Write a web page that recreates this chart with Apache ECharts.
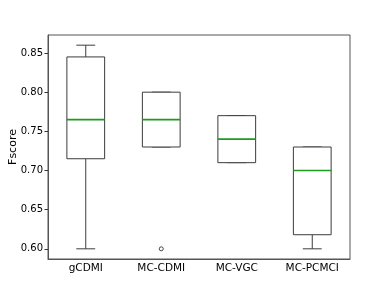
<!DOCTYPE html>
<html>
<head>
<meta charset="utf-8">
<script src="https://cdn.jsdelivr.net/npm/echarts@6/dist/echarts.min.js"></script>
<style>
html,body{margin:0;padding:0;background:#fff;}
#c{width:389px;height:292px;}
</style>
</head>
<body>
<div id="c"></div>
<script>
var categories = ['gCDMI', 'MC-CDMI', 'MC-VGC', 'MC-PCMCI'];
var whiskerLow = [0.60, 0.73, 0.71, 0.60];
var q1 = [0.715, 0.73, 0.71, 0.618];
var median = [0.765, 0.765, 0.74, 0.70];
var q3 = [0.845, 0.80, 0.77, 0.73];
var whiskerHigh = [0.86, 0.80, 0.77, 0.73];
var outliers = [[1, 0.60]];
var yTicks = [0.60, 0.65, 0.70, 0.75, 0.80, 0.85];

var boxData = categories.map(function (c, i) {
  return [i, whiskerLow[i], q1[i], median[i], q3[i], whiskerHigh[i]];
});

var LINE = '#3c3c3c';
var FONT = 'DejaVu Sans';

var chart = echarts.init(document.getElementById('c'), null, {renderer: 'canvas'});
chart.setOption({
  animation: false,
  backgroundColor: '#fff',
  grid: {left: 48, right: 39, top: 35, bottom: 33, containLabel: false, outerBoundsMode: 'none',
    show: true, borderColor: '#555', borderWidth: 1, backgroundColor: 'transparent'},
  xAxis: {
    type: 'category',
    data: categories,
    boundaryGap: true,
    axisLine: {lineStyle: {color: '#555', width: 1}},
    axisTick: {alignWithLabel: true, length: 3.5, lineStyle: {color: '#333'}},
    axisLabel: {color: '#000', fontFamily: FONT, fontSize: 10.5, margin: 4},
    splitLine: {show: false}
  },
  yAxis: {
    type: 'value',
    min: 0.587,
    max: 0.873,
    name: 'Fscore',
    nameLocation: 'middle',
    nameGap: 29,
    nameMoveOverlap: false,
    nameTextStyle: {color: '#000', fontFamily: FONT, fontSize: 11},
    axisLine: {show: true, lineStyle: {color: '#555', width: 1}},
    axisTick: {show: true, length: 3.5, customValues: yTicks, lineStyle: {color: '#333'}},
    axisLabel: {color: '#000', fontFamily: FONT, fontSize: 10, margin: 5, customValues: yTicks,
      formatter: function (v) { return v.toFixed(2); }},
    splitLine: {show: false}
  },
  series: [
    {
      type: 'custom',
      data: boxData,
      encode: {x: 0, y: [1, 2, 3, 4, 5]},
      renderItem: function (params, api) {
        var x = api.value(0);
        var band = api.size([1, 0])[0];
        var half = band * 0.25;
        var cap = band * 0.125;
        var pLow = api.coord([x, api.value(1)]);
        var pQ1 = api.coord([x, api.value(2)]);
        var pMed = api.coord([x, api.value(3)]);
        var pQ3 = api.coord([x, api.value(4)]);
        var pHigh = api.coord([x, api.value(5)]);
        var cx = pQ1[0];
        var ls = {stroke: LINE, lineWidth: 1, fill: null};
        return {
          type: 'group',
          children: [
            {type: 'line', shape: {x1: cx, y1: pQ3[1], x2: cx, y2: pHigh[1]}, style: ls},
            {type: 'line', shape: {x1: cx, y1: pQ1[1], x2: cx, y2: pLow[1]}, style: ls},
            {type: 'line', shape: {x1: cx - cap, y1: pHigh[1], x2: cx + cap, y2: pHigh[1]}, style: ls},
            {type: 'line', shape: {x1: cx - cap, y1: pLow[1], x2: cx + cap, y2: pLow[1]}, style: ls},
            {type: 'rect', shape: {x: cx - half, y: pQ3[1], width: half * 2, height: pQ1[1] - pQ3[1]}, style: {stroke: LINE, lineWidth: 1, fill: '#fff'}},
            {type: 'line', shape: {x1: cx - half, y1: pMed[1], x2: cx + half, y2: pMed[1]}, style: {stroke: '#1f9a1f', lineWidth: 1.6}}
          ]
        };
      }
    },
    {
      type: 'custom',
      data: outliers,
      encode: {x: 0, y: 1},
      z: 5,
      renderItem: function (params, api) {
        var p = api.coord([api.value(0), api.value(1)]);
        return {type: 'circle', shape: {cx: p[0], cy: p[1], r: 2}, style: {stroke: '#333', lineWidth: 0.9, fill: '#fff'}};
      }
    }
  ]
});
</script>
</body>
</html>
